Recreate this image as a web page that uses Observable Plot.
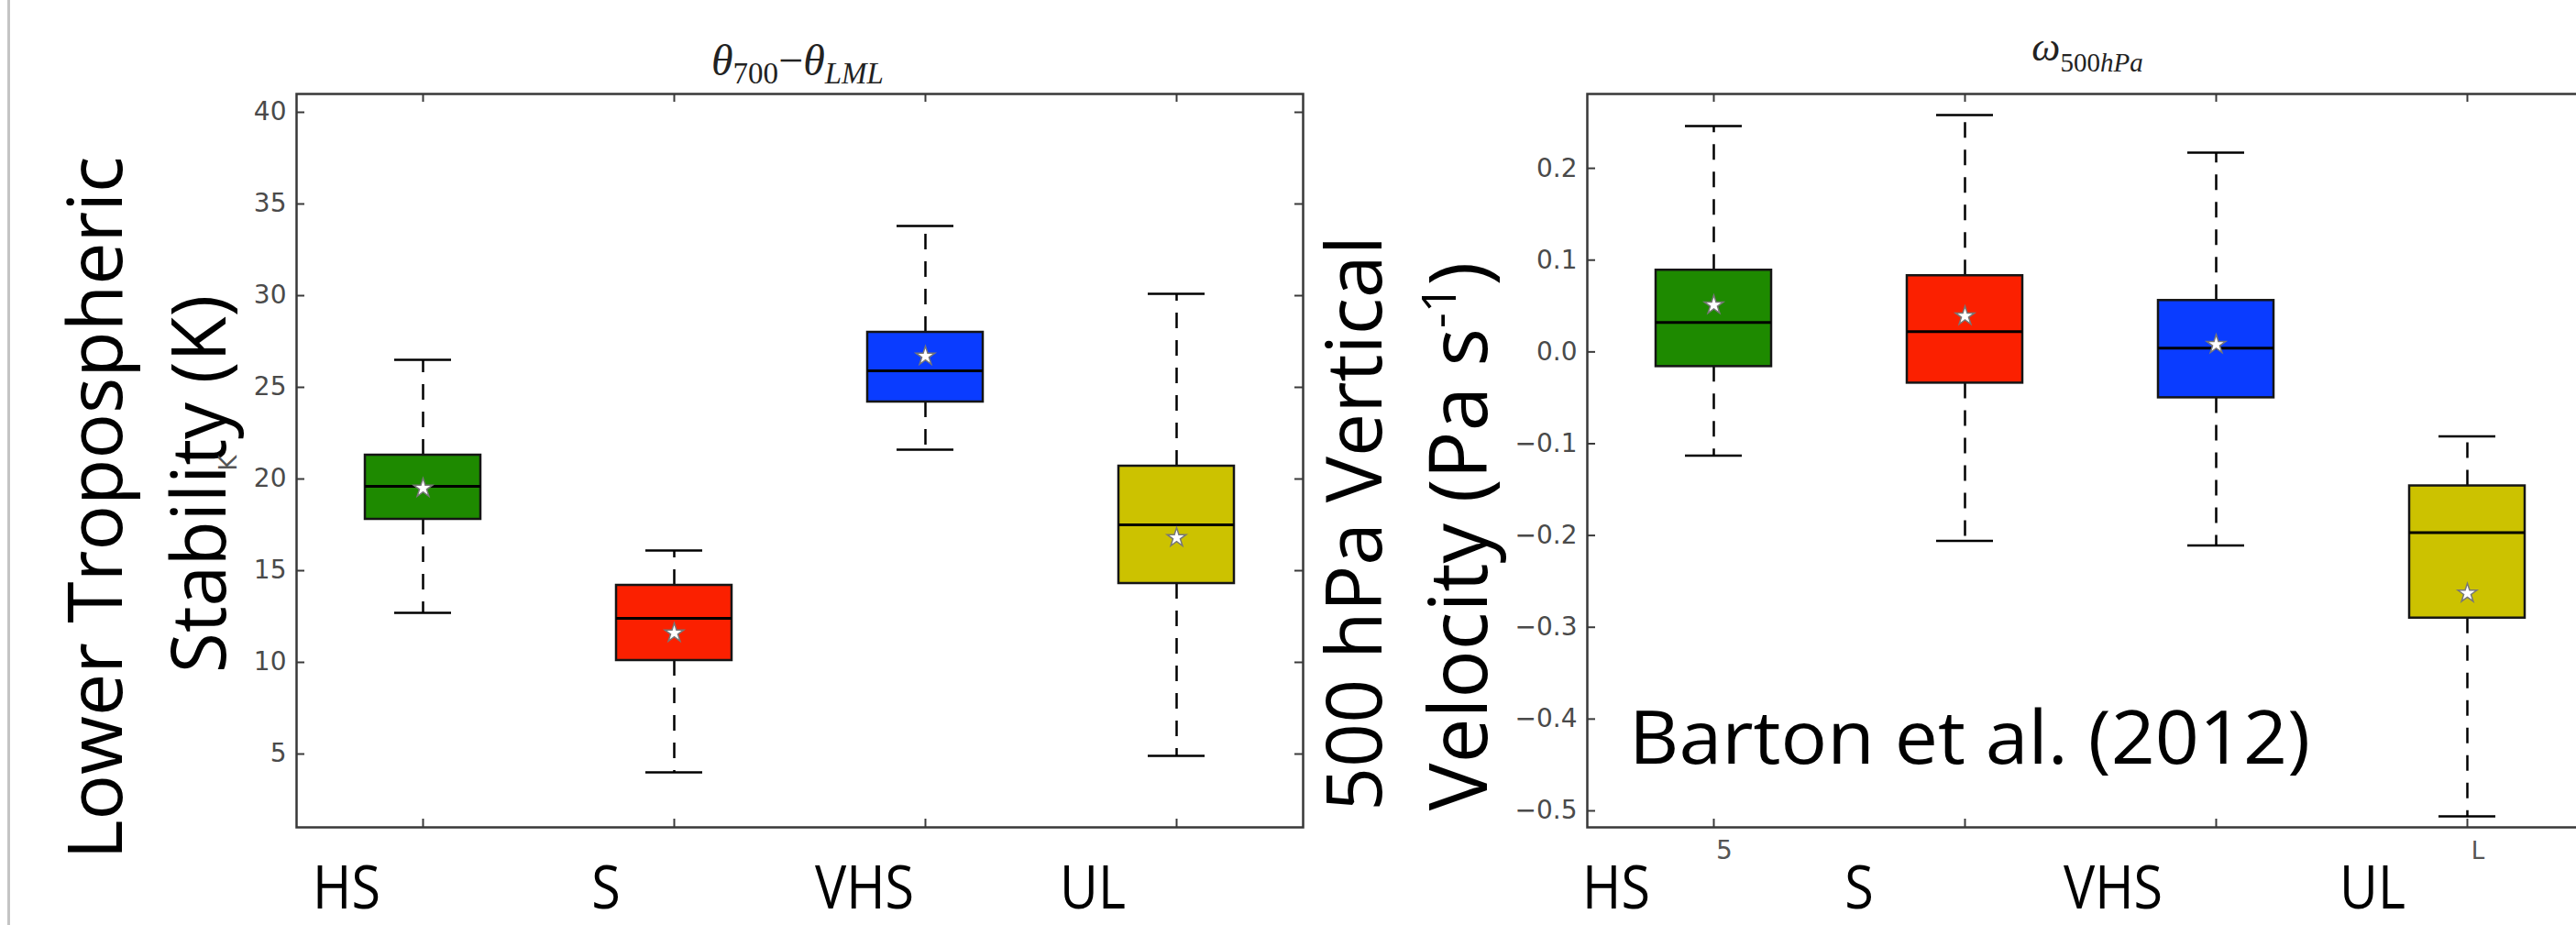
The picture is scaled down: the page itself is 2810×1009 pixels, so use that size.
<!DOCTYPE html>
<html><head><meta charset="utf-8">
<script src="https://cdn.jsdelivr.net/npm/d3@7"></script>
<script src="https://cdn.jsdelivr.net/npm/@observablehq/plot@0.6"></script>
<style>
html,body{margin:0;padding:0;background:#fff;width:2810px;height:1009px;overflow:hidden;}
#page{position:relative;width:2810px;height:1009px;overflow:hidden;}
.panel{position:absolute;top:0;}
#overlay{position:absolute;left:0;top:0;}
#edge{position:absolute;left:8px;top:0;width:3px;height:1009px;background:#c4c4c4;}
</style></head><body><div id="page"><div id="edge"></div></div>
<script>
// ---------- DATA ----------
const categories = ["HS", "S", "VHS", "UL"];
const colors = ["#1e8a00", "#fb2000", "#0a3cff", "#ccc200"];

// Left panel: θ700 − θLML (K)
const ltsWhiskerLow  = [12.7, 4.0, 21.6, 4.9];
const ltsQ1          = [17.8, 10.1, 24.2, 14.3];
const ltsMedian      = [19.6, 12.4, 25.9, 17.5];
const ltsQ3          = [21.3, 14.2, 28.0, 20.7];
const ltsWhiskerHigh = [26.5, 16.1, 33.8, 30.1];
const ltsMean        = [19.5, 11.6, 26.7, 16.8];
const ltsTicks       = [5, 10, 15, 20, 25, 30, 35, 40];

// Right panel: ω500hPa (Pa s-1)
const omWhiskerLow  = [-0.113, -0.206, -0.211, -0.506];
const omQ1          = [-0.016, -0.034, -0.050, -0.290];
const omMedian      = [0.032, 0.022, 0.004, -0.197];
const omQ3          = [0.089, 0.083, 0.056, -0.146];
const omWhiskerHigh = [0.246, 0.258, 0.217, -0.092];
const omMean        = [0.051, 0.039, 0.008, -0.263];
const omTicks       = [-0.5, -0.4, -0.3, -0.2, -0.1, 0.0, 0.1, 0.2];

// ---------- CHARTS ----------
const innerW = 1098, innerH = 800;
function boxPanel({left, marginLeft, width, domain, ticks, format, wl, q1, med, q3, wh, mean}) {
  const rows = categories.map((c, i) => ({cat: c, wl: wl[i], q1: q1[i], med: med[i], q3: q3[i], wh: wh[i], mean: mean[i]}));
  const tickStyle = {stroke: "#3a3a3a", strokeWidth: 2};
  const chart = Plot.plot({
    width, height: 1009,
    marginLeft, marginRight: width - marginLeft - innerW, marginTop: 102, marginBottom: 107,
    style: {fontFamily: "'DejaVu Sans', sans-serif", fontSize: "28px", color: "#4a4a4a", background: "transparent", overflow: "visible"},
    x: {type: "band", domain: categories, paddingInner: 0.541, paddingOuter: 0.2705, axis: null},
    y: {domain},
    color: {domain: categories, range: colors},
    marks: [
      Plot.ruleX(rows, {x: "cat", y1: "q3", y2: "wh", stroke: "#000", strokeWidth: 2.5, strokeDasharray: "17,13"}),
      Plot.ruleX(rows, {x: "cat", y1: "q1", y2: "wl", stroke: "#000", strokeWidth: 2.5, strokeDasharray: "17,13"}),
      Plot.tickY(rows, {x: "cat", y: "wh", stroke: "#000", strokeWidth: 2.5, inset: 32}),
      Plot.tickY(rows, {x: "cat", y: "wl", stroke: "#000", strokeWidth: 2.5, inset: 32}),
      Plot.barY(rows, {x: "cat", y1: "q1", y2: "q3", fill: "cat", stroke: "#151515", strokeWidth: 2.5}),
      Plot.tickY(rows, {x: "cat", y: "med", stroke: "#000", strokeWidth: 3}),
      Plot.dot(rows, {x: "cat", y: "mean", symbol: "star", r: 6.5, fill: "#fff", stroke: "#777", strokeWidth: 1.5}),
      Plot.tickY(ticks, {y: d => d, insetRight: innerW - 9, ...tickStyle}),
      Plot.tickY(ticks, {y: d => d, insetLeft: innerW - 9, ...tickStyle}),
      Plot.tickX(categories, {x: d => d, insetTop: innerH - 9, ...tickStyle}),
      Plot.tickX(categories, {x: d => d, insetBottom: innerH - 9, ...tickStyle}),
      Plot.axisY(ticks, {tickSize: 0, tickPadding: 11, tickFormat: format, label: null, fontSize: 28, fill: "#4a4a4a"}),
      Plot.frame({stroke: "#383838", strokeWidth: 2.5})
    ]
  });
  chart.classList.add("panel");
  chart.style.left = left + "px";
  document.getElementById("page").appendChild(chart);
}

boxPanel({left: 200, marginLeft: 123, width: 1250, domain: [1, 41], ticks: ltsTicks, format: d => String(d),
  wl: ltsWhiskerLow, q1: ltsQ1, med: ltsMedian, q3: ltsQ3, wh: ltsWhiskerHigh, mean: ltsMean});
boxPanel({left: 1600, marginLeft: 131, width: 1249, domain: [-0.518, 0.281], ticks: omTicks, format: d3.format(".1f"),
  wl: omWhiskerLow, q1: omQ1, med: omMedian, q3: omQ3, wh: omWhiskerHigh, mean: omMean});

// ---------- ANNOTATIONS ----------
const svg = d3.select("#page").append("svg").attr("id", "overlay").attr("width", 2810).attr("height", 1009);

// panel titles (math)
const t1 = svg.append("text").attr("x", 870).attr("y", 82).attr("text-anchor", "middle")
  .attr("font-family", "'Liberation Serif', 'DejaVu Serif', serif").attr("font-size", 48).attr("fill", "#222");
t1.append("tspan").attr("font-style", "italic").text("θ");
t1.append("tspan").attr("font-size", 33).attr("dy", 9).text("700");
t1.append("tspan").attr("dy", -9).text("−");
t1.append("tspan").attr("font-style", "italic").text("θ");
t1.append("tspan").attr("font-size", 33).attr("dy", 9).attr("font-style", "italic").text("LML");

const t2 = svg.append("text").attr("x", 2277).attr("y", 66).attr("text-anchor", "middle")
  .attr("font-family", "'Liberation Serif', 'DejaVu Serif', serif").attr("font-size", 44).attr("fill", "#222");
t2.append("tspan").attr("font-style", "italic").text("ω");
t2.append("tspan").attr("font-size", 29).attr("dy", 12).text("500");
t2.append("tspan").attr("font-size", 29).attr("font-style", "italic").text("hPa");

// big y-axis labels
function rot(x, y, size, len) {
  const t = svg.append("text").attr("transform", `translate(${x},${y}) rotate(-90)`).attr("text-anchor", "middle")
    .attr("font-family", "'Open Sans', sans-serif").attr("font-size", size).attr("fill", "#000");
  if (len) t.attr("textLength", len).attr("lengthAdjust", "spacingAndGlyphs");
  return t;
}
rot(133, 554, 82, 767).text("Lower Tropospheric");
rot(246, 528, 82, 412).text("Stability (K)");
rot(1507, 571, 84, 628).text("500 hPa Vertical");
const v = rot(1622, 585, 87, null);
v.append("tspan").text("Velocity (Pa s");
v.append("tspan").attr("font-size", 52).attr("dy", -34).text("-1");
v.append("tspan").attr("dy", 34).text(")");

// leftover small matplotlib ylabel
svg.append("text").attr("transform", "translate(258,505) rotate(-90)").attr("text-anchor", "middle")
  .attr("font-family", "'DejaVu Sans', sans-serif").attr("font-size", 26).attr("fill", "#555").text("K");

// category labels under each panel
const labelCenters = [[378, 661, 943, 1192], [1763, 2028, 2305, 2588]];
labelCenters.forEach(xs => categories.forEach((c, i) => {
  svg.append("text").attr("transform", `translate(${xs[i]},991) scale(0.87,1)`).attr("text-anchor", "middle")
    .attr("font-family", "'Open Sans', sans-serif").attr("font-size", 66).attr("fill", "#000").text(c);
}));

// residual tick-label fragments on right panel
svg.append("text").attr("x", 1881).attr("y", 937).attr("text-anchor", "middle")
  .attr("font-family", "'DejaVu Sans', sans-serif").attr("font-size", 28).attr("fill", "#555").text("5");
svg.append("text").attr("x", 2703).attr("y", 937).attr("text-anchor", "middle")
  .attr("font-family", "'DejaVu Sans', sans-serif").attr("font-size", 26).attr("fill", "#555").text("L");

// citation
svg.append("text").attr("x", 1777).attr("y", 833).attr("font-family", "'Open Sans', sans-serif")
  .attr("font-size", 81).attr("fill", "#000").attr("textLength", 743).attr("lengthAdjust", "spacingAndGlyphs")
  .text("Barton et al. (2012)");
</script></body></html>
